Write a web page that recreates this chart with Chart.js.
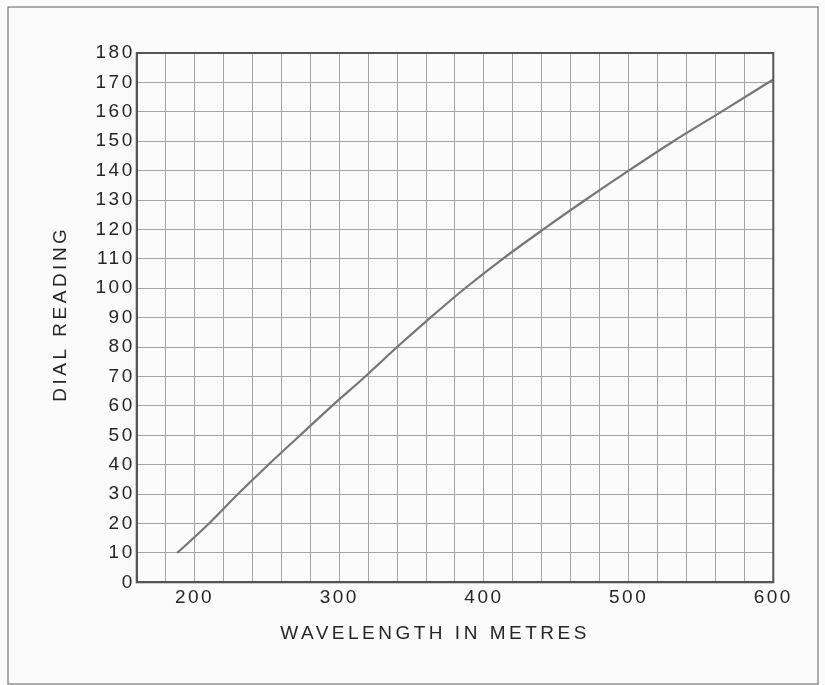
<!DOCTYPE html>
<html>
<head>
<meta charset="utf-8">
<script src="https://cdn.jsdelivr.net/npm/chart.js@4.4.1/dist/chart.umd.min.js"></script>
<style>
  body { margin: 0; background: #fbfbfb; }
  #box { width: 825px; height: 685px; }
</style>
</head>
<body>
<div id="box"><canvas id="myChart" width="825" height="685"></canvas></div>
<script>
// dados
const comprimentos = [188, 210, 230, 251, 273, 295, 318, 340, 363, 387, 413, 441, 470, 500, 531, 564, 600];
const leituras = [10, 20, 30, 40, 50, 60, 70, 80, 90, 100, 110, 120, 130, 140, 150, 160, 171];
const rotulosX = [200, 300, 400, 500, 600];

const pontos = comprimentos.map(function(x, i) {
    return { x: x, y: leituras[i] };
});

const corTexto = '#262626';
const familia = "'Liberation Sans', Arial, sans-serif";

// titulo com letras mais espacadas e deslocado um pouco
function ajustarTitulo(scale, dx, dy) {
    if (scale._tituloAjustado) return;
    scale._tituloAjustado = true;
    const original = scale.drawTitle;
    scale.drawTitle = function(area) {
        const c = this.ctx;
        c.save();
        c.letterSpacing = '3.5px';
        c.translate(dx, dy);
        original.call(this, area);
        c.restore();
    };
}

// espacamento das letras (canvas perde o estado no resize)
const espacamento = {
    id: 'espacamento',
    beforeLayout: function(chart) { chart.ctx.letterSpacing = '2.5px'; },
    beforeDraw: function(chart) {
        const c = chart.ctx;
        c.save();
        c.letterSpacing = '0px';
        c.fillStyle = '#fbfbfb';
        c.fillRect(0, 0, chart.width, chart.height);
        // moldura externa
        c.strokeStyle = '#777';
        c.lineWidth = 1.2;
        c.strokeRect(8, 7, 810, 677);
        c.restore();
        c.letterSpacing = '2.5px';
    },
    afterDraw: function(chart) {
        // borda da area do grafico
        const a = chart.chartArea;
        const c = chart.ctx;
        c.save();
        c.strokeStyle = '#555';
        c.lineWidth = 2;
        c.strokeRect(a.left, a.top, a.right - a.left, a.bottom - a.top);
        c.restore();
    }
};

const ctx = document.getElementById('myChart').getContext('2d');

new Chart(ctx, {
    type: 'line',
    data: {
        datasets: [{
            data: pontos,
            borderColor: '#767676',
            borderWidth: 2.2,
            pointRadius: 0,
            cubicInterpolationMode: 'monotone',
            fill: false
        }]
    },
    options: {
        responsive: false,
        animation: false,
        events: [],
        layout: { padding: { left: 0, top: 53, right: 51.7, bottom: 0 } },
        plugins: {
            legend: { display: false },
            tooltip: { enabled: false }
        },
        scales: {
            x: {
                type: 'linear',
                min: 160,
                max: 600,
                afterFit: function(scale) {
                    scale.height = 102.7;
                    ajustarTitulo(scale, -20, 0);
                },
                ticks: {
                    stepSize: 20,
                    autoSkip: false,
                    maxRotation: 0,
                    padding: 4,
                    color: corTexto,
                    font: { family: familia, size: 19 },
                    callback: function(v) {
                        return rotulosX.indexOf(v) >= 0 ? String(v) : '';
                    }
                },
                grid: { color: '#a3a3a3', lineWidth: 1, drawTicks: false },
                border: { display: true, color: '#555', width: 2 },
                title: {
                    display: true,
                    text: 'WAVELENGTH IN METRES',
                    color: corTexto,
                    font: { family: familia, size: 19 },
                    padding: { top: 0, bottom: 40 }
                }
            },
            y: {
                min: 0,
                max: 180,
                afterFit: function(scale) {
                    scale.width = 136.7;
                    ajustarTitulo(scale, 0, -4);
                },
                ticks: {
                    stepSize: 10,
                    autoSkip: false,
                    padding: 2,
                    color: corTexto,
                    font: { family: familia, size: 19 }
                },
                grid: { color: '#a3a3a3', lineWidth: 1, drawTicks: false },
                border: { display: true, color: '#555', width: 2 },
                title: {
                    display: true,
                    text: 'DIAL READING',
                    color: corTexto,
                    font: { family: familia, size: 19 },
                    padding: { top: 49, bottom: 0 }
                }
            }
        }
    },
    plugins: [espacamento]
});
</script>
</body>
</html>
